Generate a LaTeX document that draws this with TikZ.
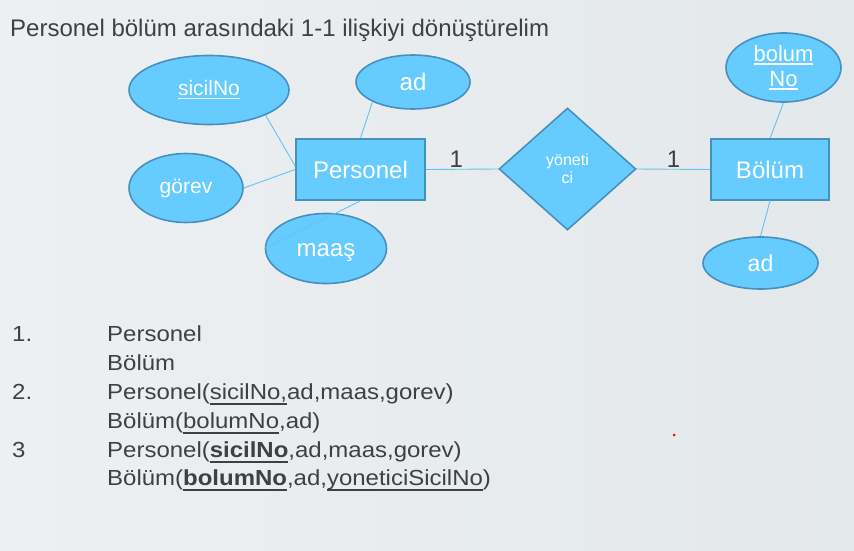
\documentclass[tikz,border=0pt]{standalone}
\usepackage{fontspec}
\setmainfont{Liberation Sans}
\newfontfamily\listfont[FakeStretch=1.1]{Liberation Sans}
\usetikzlibrary{shapes.geometric}

\definecolor{attrfill}{HTML}{66CCFF}
\definecolor{attrline}{HTML}{4690BE}
\definecolor{linkblue}{HTML}{66C2F0}
\definecolor{textgray}{HTML}{404040}
\definecolor{bgleft}{HTML}{EDF0F2}
\definecolor{bgright}{HTML}{E3E8EB}

\newsavebox\ulbox
\newcommand{\pxsize}[1]{\fontsize{#1}{#1}\selectfont}
\newcommand{\keyu}[1]{\sbox\ulbox{#1}\rlap{\rule[-3.5pt]{\wd\ulbox}{1.5pt}}\usebox\ulbox}
\newcommand{\listu}[1]{\sbox\ulbox{#1}\rlap{\rule[-5.8pt]{\wd\ulbox}{1.6pt}}\usebox\ulbox}

\begin{document}
\begin{tikzpicture}[x=1pt, y=-1pt,
    attr/.style = {draw=attrline, fill=attrfill, ellipse, line width=1.6pt, inner sep=0, text=white},
    entity/.style = {draw=attrline, fill=attrfill, rectangle, line width=1.6pt, inner sep=0, text=white, minimum height=61pt},
    rel/.style = {draw=attrline, fill=attrfill, diamond, line width=1.6pt, inner sep=0, text=white, align=center},
    link/.style = {draw=linkblue, line width=0.9pt},
    card/.style = {anchor=base, inner sep=0, text=textgray, font=\pxsize{24}},
    item/.style = {anchor=base west, inner sep=0, text=textgray, font=\listfont\pxsize{21.8}}]
    \useasboundingbox (0,0) rectangle (854,551);
    \shade[left color=bgleft, right color=bgright] (0,0) rectangle (854,551);

    \node[anchor=base west, inner sep=0, text=textgray, font=\pxsize{24}] (title) at (10,37) {Personel bölüm arasındaki 1-1 ilişkiyi dönüştürelim};

    % entities and relation
    \node[entity, minimum width=129pt, font=\pxsize{24}] (personel) at (360.5,169.5) {Personel};
    \node[entity, minimum width=118pt, font=\pxsize{24}] (bolum) at (770,169.5) {Bölüm};
    \node[rel, minimum width=137pt, minimum height=122pt, font=\fontsize{16}{17.5}\selectfont] (yonetici) at (567.5,169) {yöneti\\ci};

    % attributes
    \node[attr, minimum width=160pt, minimum height=69pt, font=\pxsize{21}] (sicilNo) at (209,90) {\keyu{sicilNo}};
    \node[attr, minimum width=114pt, minimum height=54pt, font=\pxsize{24}] (adP) at (413,82) {ad};
    \node[attr, minimum width=114pt, minimum height=69pt, font=\pxsize{21}] (gorev) at (186,188) {görev};
    \node[attr, minimum width=121pt, minimum height=70pt, font=\pxsize{24}, text height=16pt, text depth=0pt] (maas) at (326,248.5) {maaş};
    \node[attr, minimum width=115pt, minimum height=69pt, align=center, font=\fontsize{22}{25}\selectfont] (bolumNo) at (783.5,67.5) {\keyu{bolum}\\\keyu{No}};
    \node[attr, minimum width=115pt, minimum height=52pt, font=\pxsize{23}] (adB) at (760.5,263) {ad};

    \draw[link] (sicilNo.-24) -- (personel.177);
    \draw[link] (adP.206) -- (personel.north);
    \draw[link] (gorev.east) -- (personel.west);
    \draw[link] (personel.south) -- (maas.west);
    \draw[link] (personel.east) -- node[card, pos=0.42, yshift=2pt] (c1) {1} (yonetici.west);
    \draw[link] (yonetici.east) -- node[card, pos=0.5, yshift=2pt] (c2) {1} (bolum.west);
    \draw[link] (bolumNo.south) -- (bolum.north);
    \draw[link] (bolum.south) -- (adB.north);

    % steps
    \node[item] (n1) at (12,341) {1.};
    \node[item] (l1) at (107,341) {Personel};
    \node[item] (l2) at (107,370) {Bölüm};
    \node[item] (n2) at (12,399) {2.};
    \node[item] (l3) at (107,399) {Personel(\listu{sicilNo,}ad,maas,gorev)};
    \node[item] (l4) at (107,428) {Bölüm(\listu{bolumNo},ad)};
    \node[item] (n3) at (12,457) {3};
    \node[item] (l5) at (107,457) {Personel(\listu{\textbf{sicilNo}},ad,maas,gorev)};
    \node[item] (l6) at (107,485) {Bölüm(\listu{\textbf{bolumNo}},ad,\listu{yoneticiSicilNo})};

    \fill[red] (674,435) circle (1.5);
\end{tikzpicture}
\end{document}
